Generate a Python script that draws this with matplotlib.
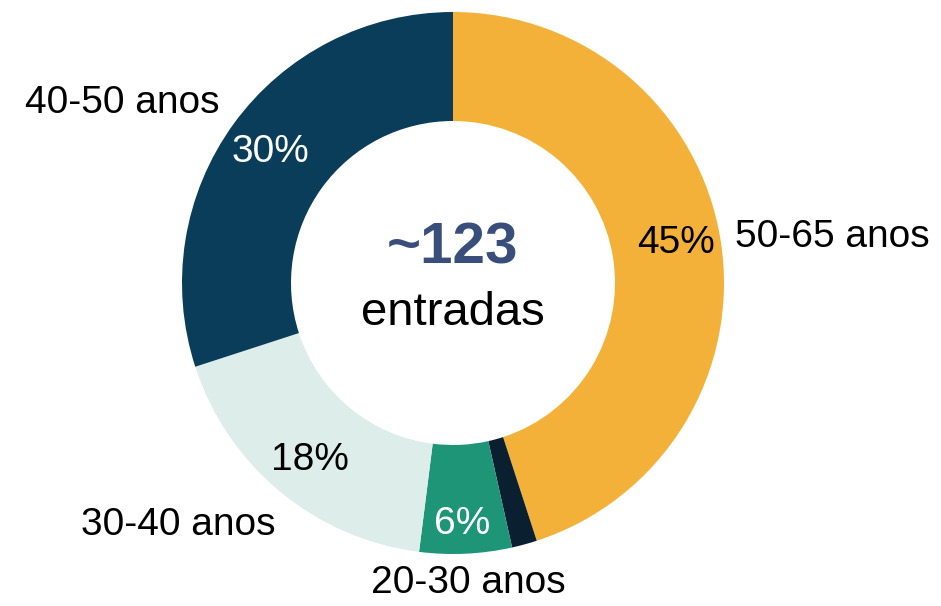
import matplotlib.pyplot as plt

# dados por faixa etária (sentido horário a partir do topo)
faixas = ['50-65 anos', 'outros', '20-30 anos', '30-40 anos', '40-50 anos']
valores = [45, 1.5, 5.5, 18, 30]
rotulos_pct = ['45%', '', '6%', '18%', '30%']
cores = ['#F4B13A', '#0A1F30', '#1E9577', '#DDEDE9', '#093D59']
cor_pct = ['black', 'white', 'white', 'black', 'white']
total = '~123'

plt.rcParams['font.family'] = ['Liberation Sans', 'DejaVu Sans']

fig = plt.figure(figsize=(9.41, 6.06), dpi=100)
ax = fig.add_axes([0, 0, 1, 1])

R = 271
ax.pie(valores, colors=cores, startangle=90, counterclock=False, radius=R,
       wedgeprops=dict(width=R - 162, linewidth=0))

ax.set_xlim(-453, 941 - 453)
ax.set_ylim(-323, 606 - 323)
ax.set_aspect('equal')
ax.axis('off')

# posições dos textos (px relativos ao centro)
pos_pct = [(223, 40), None, (9, -241), (-143, -177), (-183, 131)]
pos_nome = [(282, 46, 'left'), None, (15, -300, 'center'),
            (-275, -242, 'center'), (-233, 180, 'right')]

for i in range(len(faixas)):
    if pos_pct[i] is not None:
        ax.text(pos_pct[i][0], pos_pct[i][1], rotulos_pct[i], fontsize=28,
                color=cor_pct[i], ha='center', va='center')
    if pos_nome[i] is not None:
        x, y, ha = pos_nome[i]
        ax.text(x, y, faixas[i], fontsize=28, ha=ha, va='center')

ax.text(0, 35, total, fontsize=42, fontweight='bold', color='#3A4E7B',
        ha='center', va='center')
ax.text(0, -30, 'entradas', fontsize=34, ha='center', va='center')

fig.savefig('out.png', dpi=100)
